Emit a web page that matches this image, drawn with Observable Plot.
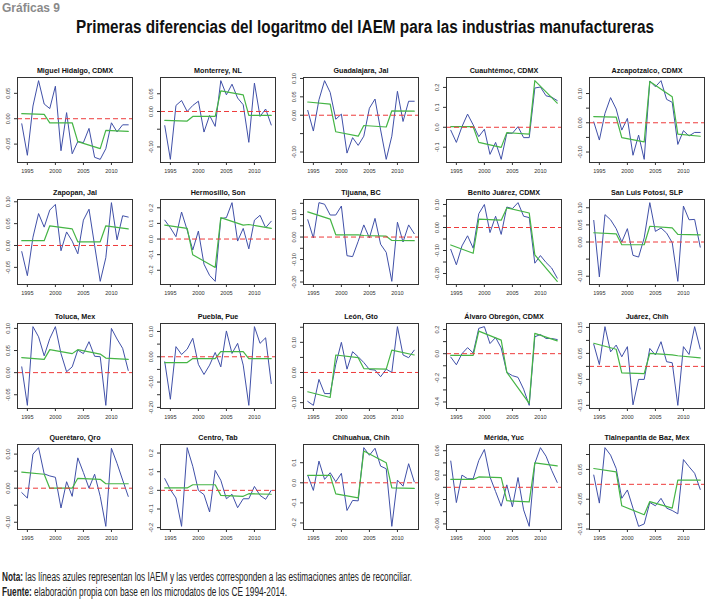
<!DOCTYPE html>
<html>
<head>
<meta charset="utf-8">
<script src="https://cdn.jsdelivr.net/npm/d3@7"></script>
<script src="https://cdn.jsdelivr.net/npm/@observablehq/plot@0.6"></script>
<style>
  body { margin: 0; background: #fff; }
  #root { position: relative; width: 720px; height: 602px; overflow: hidden; background: #fff;
          font-family: "Liberation Sans", Arial, sans-serif; }
  .panel { position: absolute; }
  .txt { position: absolute; white-space: nowrap; display: inline-block; transform-origin: left center;
         font-family: "Liberation Sans Narrow", "Liberation Sans", Arial, sans-serif; }
</style>
</head>
<body>
<div id="root"></div>
<script>
// ---------- data ----------
const years = [1994,1995,1996,1997,1998,1999,2000,2001,2002,2003,2004,2005,2006,2007,2008,2009,2010,2011,2012,2013];
const segYears = [1994,1998,1999,2003,2004,2008,2009,2013];
const xTicks = [1995, 2000, 2005, 2010];

const titles = ["Miguel Hidalgo, CDMX","Monterrey, NL","Guadalajara, Jal","Cuauhtémoc, CDMX","Azcapotzalco, CDMX",
  "Zapopan, Jal","Hermosillo, Son","Tijuana, BC","Benito Juárez, CDMX","San Luis Potosí, SLP",
  "Toluca, Mex","Puebla, Pue","León, Gto","Álvaro Obregón, CDMX","Juárez, Chih",
  "Querétaro, Qro","Centro, Tab","Chihuahua, Chih","Mérida, Yuc","Tlalnepantla de Baz, Mex"];

const p01Blue = [-0.010,-0.072,0.025,0.075,0.029,0.020,0.064,-0.063,0.012,-0.069,-0.045,-0.047,-0.019,-0.076,-0.080,-0.059,-0.008,-0.026,-0.012,-0.012];
const p01Green = [0.010,0.0085,-0.008,-0.008,-0.045,-0.059,-0.023,-0.025];
const p01Ticks = [-0.05,0,0.05];
const p01Labels = ["-0.05","0.00","0.05"];

const p02Blue = [-0.040,-0.135,0.017,0.031,0.000,0.017,0.029,-0.058,-0.011,-0.042,0.087,0.047,0.077,0.038,0.019,-0.087,0.080,-0.014,0.007,-0.038];
const p02Green = [-0.025,-0.027,-0.014,-0.014,0.058,0.047,-0.011,-0.011];
const p02Ticks = [-0.10,-0.05,0,0.05];
const p02Labels = ["-0.10","","0.00","0.05"];

const p03Blue = [0.013,-0.043,0.042,0.094,0.062,-0.011,0.003,-0.103,-0.061,-0.082,-0.057,0.019,0.044,-0.040,-0.120,-0.057,0.065,-0.017,0.038,0.038];
const p03Green = [0.036,0.030,-0.045,-0.057,-0.028,-0.032,0.012,0.011];
const p03Ticks = [-0.10,-0.05,0,0.05,0.10];
const p03Labels = ["-0.10","","0.00","0.05","0.10"];

const p04Blue = [-0.015,-0.076,0.003,0.066,0.012,-0.047,-0.010,-0.136,-0.076,-0.161,-0.030,-0.030,0.003,-0.052,-0.052,0.197,0.202,0.158,0.151,0.134];
const p04Green = [0.003,0.003,-0.076,-0.101,-0.027,-0.034,0.234,0.121];
const p04Ticks = [-0.1,0,0.1,0.2];
const p04Labels = ["-0.1","0.0","0.1","0.2"];

const p05Blue = [0.003,-0.059,0.032,0.086,0.047,-0.025,0.015,-0.111,-0.042,-0.125,0.143,0.123,0.144,0.080,0.070,-0.074,-0.027,-0.045,-0.033,-0.033];
const p05Green = [0.021,0.019,-0.051,-0.065,0.141,0.089,-0.039,-0.046];
const p05Ticks = [-0.10,-0.05,0,0.05,0.10];
const p05Labels = ["-0.10","","0.00","","0.10"];

const p06Blue = [-0.014,-0.069,0.019,0.073,0.042,0.081,0.094,-0.012,0.031,0.010,-0.019,0.058,0.083,0.000,-0.082,-0.028,0.098,0.013,0.068,0.065];
const p06Green = [0.011,0.011,0.045,0.038,0.0085,0.0085,0.045,0.038];
const p06Ticks = [-0.05,0,0.05,0.10];
const p06Labels = ["-0.05","0.00","0.05","0.10"];

const p07Blue = [0.121,0.072,0.015,0.173,0.057,-0.070,0.051,-0.161,-0.233,-0.271,0.131,0.137,0.233,-0.013,0.068,-0.063,0.121,0.152,0.072,0.114];
const p07Green = [0.089,0.068,-0.101,-0.182,0.137,0.089,0.093,0.068];
const p07Ticks = [-0.2,-0.1,0,0.1,0.2];
const p07Labels = ["-0.2","-0.1","0.0","0.1","0.2"];

const p08Blue = [0.077,-0.004,0.153,0.146,0.098,0.098,0.138,-0.083,-0.087,-0.019,0.054,-0.004,0.083,-0.032,-0.068,-0.197,0.066,-0.022,0.054,0.015];
const p08Green = [0.112,0.080,0.010,0.010,0.007,0.004,-0.015,-0.016];
const p08Ticks = [-0.20,-0.15,-0.10,-0.05,0,0.05,0.10,0.15];
const p08Labels = ["-0.20","","-0.10","","0.00","","0.10",""];

const p09Blue = [-0.095,-0.162,-0.080,-0.036,-0.090,0.060,0.100,-0.022,0.049,-0.030,0.089,0.082,0.108,0.049,0.043,-0.155,-0.122,-0.152,-0.176,-0.220];
const p09Green = [-0.076,-0.112,0.036,0.032,0.085,0.063,-0.119,-0.234];
const p09Ticks = [-0.20,-0.15,-0.10,-0.05,0,0.05,0.10];
const p09Labels = ["-0.20","","-0.10","","0.00","","0.10"];

const p10Blue = [0.063,-0.102,0.080,0.065,0.039,0.000,0.039,-0.039,-0.044,0.012,0.115,0.031,0.041,0.026,-0.002,-0.115,0.105,0.065,0.066,-0.015];
const p10Green = [0.027,0.024,-0.008,-0.008,0.046,0.041,0.022,0.021];
const p10Ticks = [-0.10,-0.05,0,0.05,0.10];
const p10Labels = ["-0.10","","0.00","0.05","0.10"];

const p11Blue = [0.013,-0.074,0.104,0.081,0.038,0.077,0.104,0.043,0.002,0.013,0.051,0.043,0.070,0.037,0.036,-0.074,0.100,0.076,0.055,0.005];
const p11Green = [0.034,0.030,0.052,0.043,0.052,0.042,0.033,0.030];
const p11Ticks = [-0.05,0,0.05,0.10];
const p11Labels = ["-0.05","0.00","0.05","0.10"];

const p12Blue = [-0.020,-0.168,0.040,0.009,0.030,0.073,-0.030,-0.070,-0.033,0.017,-0.040,0.102,0.013,0.053,-0.033,-0.192,0.119,0.053,0.075,-0.106];
const p12Green = [-0.023,-0.023,-0.007,-0.007,0.020,0.020,-0.007,-0.007];
const p12Ticks = [-0.20,-0.15,-0.10,-0.05,0,0.05,0.10];
const p12Labels = ["-0.20","","-0.10","","0.00","","0.10"];

const p13Blue = [-0.096,-0.109,-0.023,-0.070,-0.070,0.027,0.100,0.011,0.069,0.052,0.033,0.010,0.008,-0.014,0.011,0.000,0.152,0.058,0.049,0.074];
const p13Green = [-0.064,-0.083,0.058,0.049,0.013,0.011,0.074,0.058];
const p13Ticks = [-0.10,-0.05,0,0.05,0.10,0.15];
const p13Labels = ["-0.10","","0.00","","0.10",""];

const p14Blue = [-0.028,-0.092,0.000,0.050,0.006,0.210,0.224,0.084,0.134,0.048,-0.154,-0.182,-0.196,-0.294,-0.428,0.140,0.159,0.126,0.126,0.117];
const p14Green = [-0.014,-0.014,0.187,0.112,-0.154,-0.411,0.168,0.106];
const p14Ticks = [-0.4,-0.3,-0.2,-0.1,0,0.1,0.2];
const p14Labels = ["-0.4","","-0.2","","0.0","","0.2"];

const p15Blue = [0.085,0.007,0.153,0.056,0.082,0.037,0.076,-0.148,-0.050,-0.050,0.069,0.044,0.095,0.018,0.014,-0.150,0.076,0.046,0.153,0.067];
const p15Green = [0.089,0.066,-0.025,-0.028,0.050,0.044,0.041,0.033];
const p15Ticks = [-0.15,-0.10,-0.05,0,0.05,0.10,0.15];
const p15Labels = ["-0.15","","-0.05","","0.05","","0.15"];

const p16Blue = [-0.013,-0.029,0.100,0.119,0.042,0.036,0.032,-0.058,0.019,-0.024,0.089,0.046,0.000,0.041,-0.024,-0.112,0.117,0.073,0.024,-0.024];
const p16Green = [0.047,0.041,0.000,0.000,0.029,0.026,0.013,0.013];
const p16Ticks = [-0.10,-0.05,0,0.05,0.10];
const p16Labels = ["-0.10","","0.00","","0.10"];

const p17Blue = [0.063,0.004,-0.041,-0.193,0.229,0.129,0.000,-0.023,-0.116,0.107,0.054,-0.045,-0.021,-0.093,-0.045,-0.045,0.021,-0.027,-0.048,0.000];
const p17Green = [0.013,0.013,0.030,0.030,-0.027,-0.032,-0.018,-0.021];
const p17Ticks = [-0.2,-0.1,0,0.1,0.2];
const p17Labels = ["-0.2","-0.1","0.0","0.1","0.2"];

const p18Blue = [0.037,-0.038,0.108,0.017,0.050,0.005,0.047,-0.138,-0.088,-0.090,0.175,0.137,0.172,0.083,0.070,-0.217,0.013,-0.017,0.095,0.005];
const p18Green = [0.037,0.037,-0.055,-0.075,0.158,0.100,-0.025,-0.028];
const p18Ticks = [-0.2,-0.1,0,0.1];
const p18Labels = ["-0.2","-0.1","0.0","0.1"];

const p19Blue = [0.043,-0.025,0.020,0.014,0.014,0.044,0.062,0.017,-0.007,-0.031,0.004,-0.032,0.016,-0.037,-0.064,0.039,0.065,0.051,0.028,0.008];
const p19Green = [0.013,0.013,0.017,0.016,-0.022,-0.024,0.040,0.035];
const p19Ticks = [-0.06,-0.04,-0.02,0,0.02,0.04,0.06];
const p19Labels = ["-0.06","","-0.02","","0.02","","0.06"];

const p20Blue = [0.031,-0.063,0.123,0.098,0.053,-0.047,-0.019,-0.080,-0.141,-0.133,-0.061,-0.072,-0.047,-0.080,-0.088,-0.099,0.083,0.059,0.037,-0.017];
const p20Green = [0.053,0.042,-0.072,-0.102,-0.058,-0.080,0.014,0.014];
const p20Ticks = [-0.15,-0.10,-0.05,0,0.05,0.10];
const p20Labels = ["-0.15","","-0.05","","0.05",""];

const blues = [p01Blue,p02Blue,p03Blue,p04Blue,p05Blue,p06Blue,p07Blue,p08Blue,p09Blue,p10Blue,p11Blue,p12Blue,p13Blue,p14Blue,p15Blue,p16Blue,p17Blue,p18Blue,p19Blue,p20Blue];
const greens = [p01Green,p02Green,p03Green,p04Green,p05Green,p06Green,p07Green,p08Green,p09Green,p10Green,p11Green,p12Green,p13Green,p14Green,p15Green,p16Green,p17Green,p18Green,p19Green,p20Green];
const tickSets = [p01Ticks,p02Ticks,p03Ticks,p04Ticks,p05Ticks,p06Ticks,p07Ticks,p08Ticks,p09Ticks,p10Ticks,p11Ticks,p12Ticks,p13Ticks,p14Ticks,p15Ticks,p16Ticks,p17Ticks,p18Ticks,p19Ticks,p20Ticks];
const labelSets = [p01Labels,p02Labels,p03Labels,p04Labels,p05Labels,p06Labels,p07Labels,p08Labels,p09Labels,p10Labels,p11Labels,p12Labels,p13Labels,p14Labels,p15Labels,p16Labels,p17Labels,p18Labels,p19Labels,p20Labels];

// ---------- layout ----------
const root = document.getElementById("root");
const W = 143, H = 122, ML = 18, MR = 10, MT = 22, MB = 15;
const colPitch = 142.9, boxLeft0 = 17;
const rowTops = [77, 199, 323, 444];
const BLUE = "#4050a8", GREEN = "#45b545", RED = "#ee3b3b", INK = "#333";

const xPad = (years[years.length - 1] - years[0]) * 0.04;
const xDomain = [years[0] - xPad, years[years.length - 1] + xPad];

titles.forEach((title, i) => {
  const blueData = years.map((year, k) => ({year, value: blues[i][k]}));
  const greenData = segYears.map((year, k) => ({year, value: greens[i][k]}));
  const all = blues[i].concat(greens[i]);
  const lo = d3.min(all), hi = d3.max(all), pad = (hi - lo) * 0.04;
  const labelMap = new Map(tickSets[i].map((t, k) => [t, labelSets[i][k]]));
  const svg = Plot.plot({
    width: W, height: H,
    marginLeft: ML, marginRight: MR, marginTop: MT, marginBottom: MB,
    x: {domain: xDomain},
    y: {domain: [lo - pad, hi + pad]},
    style: {background: "transparent", color: INK, fontFamily: "'Liberation Sans', Arial, sans-serif", overflow: "visible"},
    marks: [
      Plot.line(blueData, {x: "year", y: "value", stroke: BLUE, strokeWidth: 1}),
      Plot.line(greenData, {x: "year", y: "value", stroke: GREEN, strokeWidth: 1.2}),
      Plot.ruleY([0], {stroke: RED, strokeDasharray: "5,3", strokeWidth: 1}),
      Plot.frame({stroke: INK, strokeWidth: 1}),
      Plot.axisX({ticks: xTicks, tickFormat: d => String(d), tickSize: 3, tickPadding: 4, fontSize: 5.6, label: null}),
      Plot.axisY({ticks: tickSets[i], tickFormat: d => labelMap.get(d) ?? "", tickSize: 3, tickPadding: 4.5,
                  tickRotate: -90, fontSize: 5.6, label: null}),
      Plot.text([title], {text: d => d, frameAnchor: "top", dy: -10, fontWeight: "bold", fontSize: 7.2, fill: "#111"})
    ]
  });
  const c = i % 5, r = Math.floor(i / 5);
  svg.classList.add("panel");
  svg.style.left = (boxLeft0 - ML + c * colPitch) + "px";
  svg.style.top = (rowTops[r] - MT) + "px";
  root.appendChild(svg);
});

// ---------- header / footer ----------
function addText(html, x, yc, size, weight, color, width) {
  const el = document.createElement("span");
  el.className = "txt";
  el.innerHTML = html;
  el.style.fontSize = size + "px";
  el.style.fontWeight = weight;
  el.style.color = color;
  el.style.left = x + "px";
  el.style.lineHeight = "1";
  root.appendChild(el);
  const b = el.getBoundingClientRect();
  el.style.top = (yc - b.height / 2) + "px";
  if (width) el.style.transform = `scaleX(${width / b.width})`;
  return el;
}
addText("Gráficas 9", 2, 8, 12, "bold", "#8a8a8a", 58);
addText("Primeras diferencias del logaritmo del IAEM para las industrias manufactureras", 76, 27, 18, "bold", "#111", 578);
addText("<b>Nota:</b> las líneas azules representan los IAEM y las verdes corresponden a las estimaciones antes de reconciliar.", 2, 577, 12, "normal", "#222", 410);
addText("<b>Fuente:</b> elaboración propia con base en los microdatos de los CE 1994-2014.", 2, 592, 12, "normal", "#222", 285);
</script>
</body>
</html>
